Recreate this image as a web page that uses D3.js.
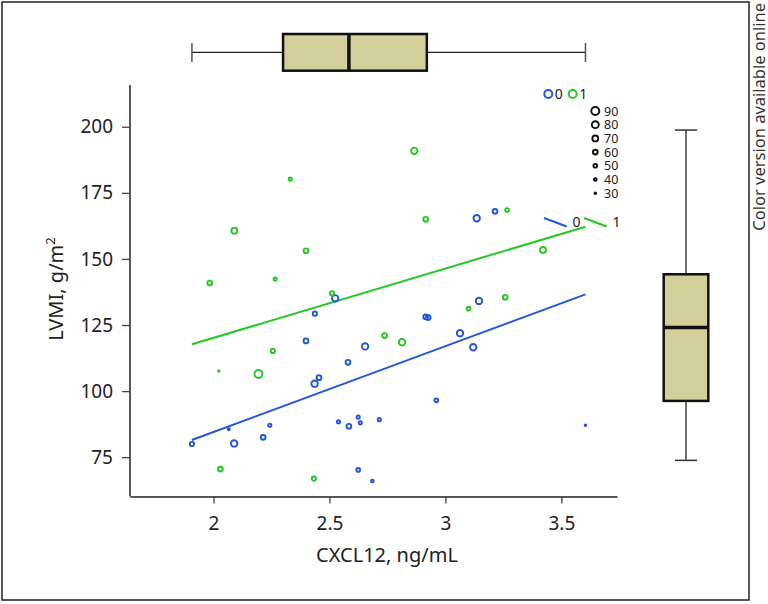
<!DOCTYPE html>
<html><head><meta charset="utf-8">
<script src="https://cdn.jsdelivr.net/npm/d3@7/dist/d3.min.js"></script>
<style>body{margin:0;background:#fff}svg{display:block}text{font-family:"Noto Sans","Open Sans",sans-serif;fill:#222}</style>
</head><body>
<svg id="c" width="768" height="604"></svg>
<script>
// Group 0 (blue): CXCL12, LVMI, size variable
const g0x = [2.525,3.135,3.214,3.145,2.437,2.399,2.58,2.455,2.436,2.066,2.243,1.907,2.089,2.214,2.539,2.584,2.624,2.633,2.624,2.654,2.915,2.926,3.063,3.120,2.961,2.715,2.685,3.604];
const g0y = [135.1,165.4,168.0,134.1,129.3,119.0,110.9,105.1,102.8,85.6,87.1,80.0,80.2,82.5,88.4,86.7,90.2,88.0,70.2,116.9,128.1,127.8,121.9,116.6,96.5,89.2,66.0,87.1];
const g0s = [75,75,60,75,55,60,60,60,75,35,45,55,75,60,45,60,45,45,50,75,60,60,75,75,50,45,40,30];
// Group 1 (green)
const g1x = [2.331,2.09,2.399,1.984,2.266,2.511,2.866,2.915,3.266,3.421,3.258,3.10,2.256,2.023,2.194,2.03,2.433,2.738,2.813];
const g1y = [180.2,160.7,153.1,140.9,142.4,137.0,190.9,165.0,168.5,153.4,135.5,131.2,115.2,107.6,106.5,70.5,66.9,121.0,118.5];
const g1s = [45,70,60,60,45,55,75,60,50,70,60,50,55,30,90,60,55,60,75];
// fitted lines [x0,x1] -> [y0,y1]
const fitX = [1.907, 3.604];
const fit0Y = [81.5, 136.6];
const fit1Y = [117.7, 162.2];
// marginal boxplots [lowWhisker, Q1, median, Q3, highWhisker]
const boxX = [1.907, 2.30, 2.584, 2.92, 3.604];
const boxY = [73.8, 96.3, 124.1, 144.2, 198.75];
const xTicks = [2, 2.5, 3, 3.5];
const yTicks = [75, 100, 125, 150, 175, 200];
const groupLabels = ["0", "1"];
const sizeLegend = [90, 80, 70, 60, 50, 40, 30];

const colors = ["#2255dd", "#22c922"];
const svg = d3.select("#c");
const x = d3.scaleLinear().domain([1.64, 3.74]).range([130, 617]);
const y = d3.scaleLinear().domain([60.7, 215.8]).range([495, 85]);
const r = d3.scaleLinear().domain([30, 90]).range([0.8, 4.0]);

// frame
svg.append("rect").attr("x",2).attr("y",2).attr("width",747).attr("height",598)
  .attr("fill","none").attr("stroke","#222").attr("stroke-width",1.5);
svg.append("text").attr("transform","translate(764.5,3) rotate(-90)")
  .attr("text-anchor","end").style("font-size","16.5px").style("fill","#333")
  .text("Color version available online");

// axes
const xa = svg.append("g").attr("transform","translate(0,496.5)")
  .call(d3.axisBottom(x).tickValues(xTicks).tickFormat(d3.format("")).tickSize(7).tickSizeOuter(0).tickPadding(13));
const ya = svg.append("g").attr("transform","translate(130,0)")
  .call(d3.axisLeft(y).tickValues(yTicks).tickSize(8).tickSizeOuter(0).tickPadding(9));
[xa, ya].forEach(a => {
  a.select(".domain").attr("stroke","#222").attr("stroke-width",1.5);
  a.selectAll(".tick line").attr("stroke","#444").attr("stroke-width",1.3);
  a.selectAll(".tick text").style("font-size","19px").style("font-family",'"Noto Sans","Open Sans",sans-serif').attr("fill","#222");
});
ya.select(".domain").attr("d","M0,85V496.5");

svg.append("text").attr("x",387).attr("y",562).attr("text-anchor","middle")
  .style("font-size","20px").text("CXCL12, ng/mL");
const yl = svg.append("text").attr("transform","translate(63,289) rotate(-90)")
  .attr("text-anchor","middle").style("font-size","20px");
yl.append("tspan").text("LVMI, g/m");
yl.append("tspan").attr("dy","-8").style("font-size","13px").text("2");

// fitted lines
[fit0Y, fit1Y].forEach((fy, i) => {
  svg.append("line").attr("x1", x(fitX[0])).attr("y1", y(fy[0]))
    .attr("x2", x(fitX[1])).attr("y2", y(fy[1]))
    .attr("stroke", colors[i]).attr("stroke-width", 2);
});

// points
const pts0 = g0x.map((v,i)=>({x:v,y:g0y[i],s:g0s[i],g:0}));
const pts1 = g1x.map((v,i)=>({x:v,y:g1y[i],s:g1s[i],g:1}));
svg.append("g").selectAll("circle").data(pts0.concat(pts1)).join("circle")
  .attr("cx",d=>x(d.x)).attr("cy",d=>y(d.y)).attr("r",d=>r(d.s))
  .attr("fill","none").attr("stroke",d=>colors[d.g]).attr("stroke-width",1.9);

// colour legend
const clx = [548.3, 572.7];
groupLabels.forEach((t,i)=>{
  svg.append("circle").attr("cx",clx[i]).attr("cy",94).attr("r",4)
    .attr("fill","none").attr("stroke",colors[i]).attr("stroke-width",2);
  svg.append("text").attr("x",clx[i]+6.5).attr("y",99).style("font-size","14px").text(t);
});
// size legend (labels as one stacked text block)
const step = 13.7;
sizeLegend.forEach((s,i)=>{
  svg.append("circle").attr("cx",595.3).attr("cy",111 + i*step).attr("r",r(s))
    .attr("fill","none").attr("stroke","#111").attr("stroke-width",1.9);
});
svg.append("text").attr("y",115.5).style("font-size","12.5px")
  .selectAll("tspan").data(sizeLegend).join("tspan")
  .attr("x",604).attr("dy",(d,i)=> i===0 ? 0 : step).text(d=>d);
// line legend
const llx = [544, 584];
groupLabels.forEach((t,i)=>{
  svg.append("line").attr("x1",llx[i]).attr("y1",218).attr("x2",llx[i]+22.7).attr("y2",226.5)
    .attr("stroke",colors[i]).attr("stroke-width",2);
  svg.append("text").attr("x",llx[i]+28.5).attr("y",227).style("font-size","14px").text(t);
});

// top boxplot
const fill = "#d3cf9b";
const tb = svg.append("g");
tb.append("line").attr("x1",x(boxX[0])).attr("x2",x(boxX[1])).attr("y1",52.3).attr("y2",52.3).attr("stroke","#222").attr("stroke-width",1.3);
tb.append("line").attr("x1",x(boxX[3])).attr("x2",x(boxX[4])).attr("y1",52.3).attr("y2",52.3).attr("stroke","#222").attr("stroke-width",1.3);
[boxX[0], boxX[4]].forEach(v=>tb.append("line").attr("x1",x(v)).attr("x2",x(v)).attr("y1",43).attr("y2",62).attr("stroke","#555").attr("stroke-width",1.5));
tb.append("rect").attr("x",x(boxX[1])).attr("y",34).attr("width",x(boxX[3])-x(boxX[1])).attr("height",36.7)
  .attr("fill",fill).attr("stroke","#111").attr("stroke-width",2.5);
tb.append("line").attr("x1",x(boxX[2])).attr("x2",x(boxX[2])).attr("y1",34).attr("y2",70.7).attr("stroke","#111").attr("stroke-width",3.5);

// right boxplot
const rb = svg.append("g");
rb.append("line").attr("x1",686).attr("x2",686).attr("y1",y(boxY[0])).attr("y2",y(boxY[1])).attr("stroke","#222").attr("stroke-width",1.3);
rb.append("line").attr("x1",686).attr("x2",686).attr("y1",y(boxY[3])).attr("y2",y(boxY[4])).attr("stroke","#222").attr("stroke-width",1.3);
[boxY[0], boxY[4]].forEach(v=>rb.append("line").attr("x1",675).attr("x2",697).attr("y1",y(v)).attr("y2",y(v)).attr("stroke","#333").attr("stroke-width",1.5));
rb.append("rect").attr("x",663.7).attr("y",y(boxY[3])).attr("width",44.6).attr("height",y(boxY[1])-y(boxY[3]))
  .attr("fill",fill).attr("stroke","#111").attr("stroke-width",2.5);
rb.append("line").attr("x1",663.7).attr("x2",708.3).attr("y1",y(boxY[2])).attr("y2",y(boxY[2])).attr("stroke","#111").attr("stroke-width",3.5);
</script>
</body></html>
